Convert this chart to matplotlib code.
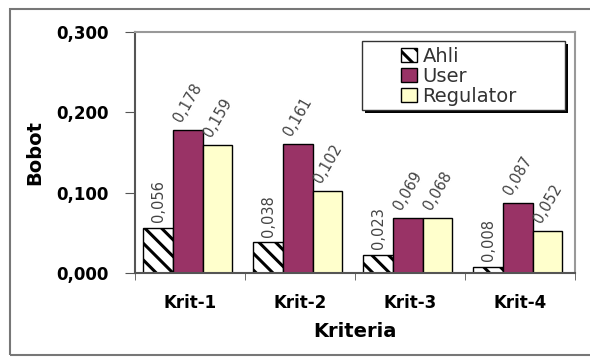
import numpy as np
import matplotlib.pyplot as plt
from matplotlib.patches import Rectangle

plt.rcParams['font.family'] = 'DejaVu Sans'
plt.rcParams['hatch.linewidth'] = 2.2

categories = ['Krit-1', 'Krit-2', 'Krit-3', 'Krit-4']
ahli = [0.056, 0.038, 0.023, 0.008]
user = [0.178, 0.161, 0.069, 0.087]
regulator = [0.159, 0.102, 0.068, 0.052]
yticks = [0.0, 0.1, 0.2, 0.3]
ytick_labels = ['0,000', '0,100', '0,200', '0,300']


def fmt(v):
    return f'{v:.3f}'.replace('.', ',')


fig = plt.figure(figsize=(5.9, 3.58), dpi=100)
ax = fig.add_axes([135 / 590, 85 / 358, 440 / 590, 241 / 358])

x = np.arange(len(categories))
w = 0.27
series = [
    ('Ahli', ahli, dict(facecolor='white', hatch='\\\\'), -w, 90),
    ('User', user, dict(facecolor='#993366'), 0.0, 60),
    ('Regulator', regulator, dict(facecolor='#FFFFCC'), w, 60),
]
for name, vals, style, off, rot in series:
    ax.bar(x + off - 0.02, vals, width=w, edgecolor='black', linewidth=1.0,
           label=name, **style)
    for xi, v in zip(x, vals):
        ax.annotate(fmt(v), (xi + off - 0.02, v), xytext=(0, 4),
                    textcoords='offset points', rotation=rot,
                    ha='center', va='bottom', fontsize=10.5, color='#444444')

ax.set_xlim(-0.5, len(categories) - 0.5)
ax.set_ylim(0, 0.3)
ax.set_yticks(yticks)
ax.set_yticklabels(ytick_labels, fontsize=12, fontweight='bold')
ax.set_xticks(x)
ax.set_xticklabels(categories, fontsize=12, fontweight='bold')
ax.set_xticks(np.arange(-0.5, len(categories)), minor=True)
ax.tick_params(axis='x', which='major', length=0, pad=15)
ax.tick_params(axis='x', which='minor', length=5, color='#555555')
ax.tick_params(axis='y', length=7, pad=12, color='#555555')

for side in ['left', 'bottom']:
    ax.spines[side].set_color('#555555')
    ax.spines[side].set_linewidth(1.5)
for side in ['top', 'right']:
    ax.spines[side].set_color('#999999')
    ax.spines[side].set_linewidth(1.5)

ax.set_ylabel('Bobot', fontsize=14, fontweight='bold')
ax.set_xlabel('Kriteria', fontsize=14, fontweight='bold', labelpad=7)
ax.yaxis.set_label_coords(-0.207, 0.5)

# legend box with drop shadow
bx0, bx1 = 0.516, 0.977
by0, by1 = 0.676, 0.963
ax.add_patch(Rectangle((bx0 + 0.007, by0 - 0.012), bx1 - bx0, by1 - by0,
                       transform=ax.transAxes, facecolor='black',
                       edgecolor='none', zorder=5, clip_on=False))
ax.add_patch(Rectangle((bx0, by0), bx1 - bx0, by1 - by0,
                       transform=ax.transAxes, facecolor='white',
                       edgecolor='#333333', linewidth=1.0, zorder=6,
                       clip_on=False))
leg = ax.legend(loc='center left', bbox_to_anchor=(0.605, 0.817),
                frameon=False, fontsize=14, borderpad=0, borderaxespad=0,
                handlelength=0.8, handleheight=0.75, labelspacing=0.05,
                handletextpad=0.3)
leg.set_zorder(7)
for t in leg.get_texts():
    t.set_color('#333333')

# outer chart border
fig.add_artist(Rectangle((10 / 590, 3 / 358), 1.2, 1 - 12 / 358,
                         transform=fig.transFigure, facecolor='none',
                         edgecolor='#777777', linewidth=1.5))

fig.savefig('out.png', dpi=100)
